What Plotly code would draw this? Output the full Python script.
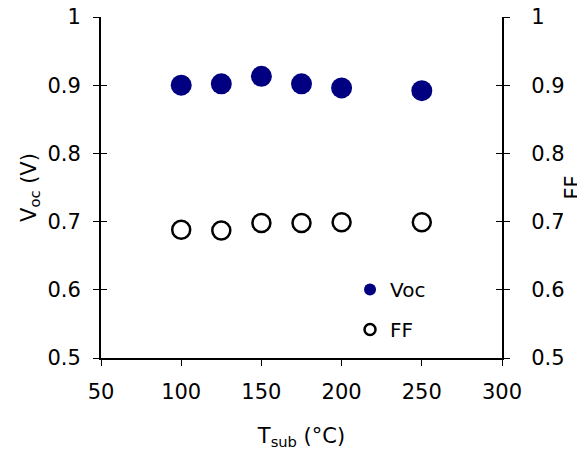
import plotly.graph_objects as go

tsub = [100, 125, 150, 175, 200, 250]
voc = [0.900, 0.902, 0.913, 0.902, 0.896, 0.892]
ff = [0.688, 0.687, 0.698, 0.698, 0.699, 0.699]
ticks_x = [50, 100, 150, 200, 250, 300]
ticks_y = [0.5, 0.6, 0.7, 0.8, 0.9, 1.0]
tick_text_y = ["0.5", "0.6", "0.7", "0.8", "0.9", "1"]

FONT = "DejaVu Sans"
NAVY = "#000080"
FS = 21

fig = go.Figure()
fig.add_trace(go.Scatter(x=tsub, y=voc, mode="markers", showlegend=False,
                         marker=dict(size=21, color=NAVY, line=dict(width=0)),
                         xaxis="x", yaxis="y"))
fig.add_trace(go.Scatter(x=tsub, y=ff, mode="markers", showlegend=False,
                         marker=dict(size=18, color="black", symbol="circle-open",
                                     line=dict(width=2.5, color="black")),
                         xaxis="x", yaxis="y2"))
# legend entries
fig.add_trace(go.Scatter(x=[None], y=[None], mode="markers", name="Voc", legendgroup="a",
                         marker=dict(size=12, color=NAVY), xaxis="x", yaxis="y"))
fig.add_trace(go.Scatter(x=[None], y=[None], mode="markers", name="FF", legendgroup="b",
                         marker=dict(size=11, color="black", symbol="circle-open",
                                     line=dict(width=2.5, color="black")),
                         xaxis="x", yaxis="y"))

axis_common = dict(showgrid=False, zeroline=False, linecolor="black", linewidth=2,
                   ticks="outside", ticklen=6, tickwidth=1, tickcolor="black",
                   automargin=False, ticklabeloverflow="allow",
                   tickfont=dict(family=FONT, size=FS, color="black"))

fig.update_layout(
    width=577, height=443,
    margin=dict(l=93, r=83, t=9, b=93),
    plot_bgcolor="white", paper_bgcolor="white",
    font=dict(family=FONT, size=FS, color="black"),
    xaxis=dict(range=[50, 300], tickvals=ticks_x, showline=True, ticklabelstandoff=8,
               title=dict(text="T<sub>sub</sub> (°C)", standoff=25,
                          font=dict(family=FONT, size=FS)),
               **axis_common),
    yaxis=dict(range=[0.5, 1.0], tickvals=ticks_y, ticktext=tick_text_y, showline=True,
               ticklabelstandoff=8,
               title=dict(text="V<sub>oc</sub> (V)", standoff=5,
                          font=dict(family=FONT, size=FS)),
               **axis_common),
    yaxis2=dict(range=[0.5, 1.0], tickvals=ticks_y, ticktext=tick_text_y, showline=True,
                overlaying="y", side="right", ticklabelstandoff=17,
                title=dict(text="FF", standoff=6, font=dict(family=FONT, size=FS)),
                **axis_common),
    # inside ticks to make crossing ticks on the y axes
    yaxis3=dict(range=[0.5, 1.0], tickvals=ticks_y, showticklabels=False, overlaying="y",
                ticks="inside", ticklen=6, tickcolor="black", showgrid=False, zeroline=False,
                automargin=False, anchor="x", side="left"),
    yaxis4=dict(range=[0.5, 1.0], tickvals=ticks_y, showticklabels=False, overlaying="y",
                ticks="inside", ticklen=6, tickcolor="black", showgrid=False, zeroline=False,
                automargin=False, anchor="x", side="right"),
    legend=dict(x=0.621, y=0.258, xanchor="left", yanchor="top",
                bgcolor="rgba(0,0,0,0)", font=dict(family=FONT, size=FS - 1),
                itemwidth=30, traceorder="grouped", tracegroupgap=11),
)
# dummy traces to activate inside-tick axes
fig.add_trace(go.Scatter(x=[None], y=[None], xaxis="x", yaxis="y3", showlegend=False))
fig.add_trace(go.Scatter(x=[None], y=[None], xaxis="x", yaxis="y4", showlegend=False))

fig.write_html("out.html")
